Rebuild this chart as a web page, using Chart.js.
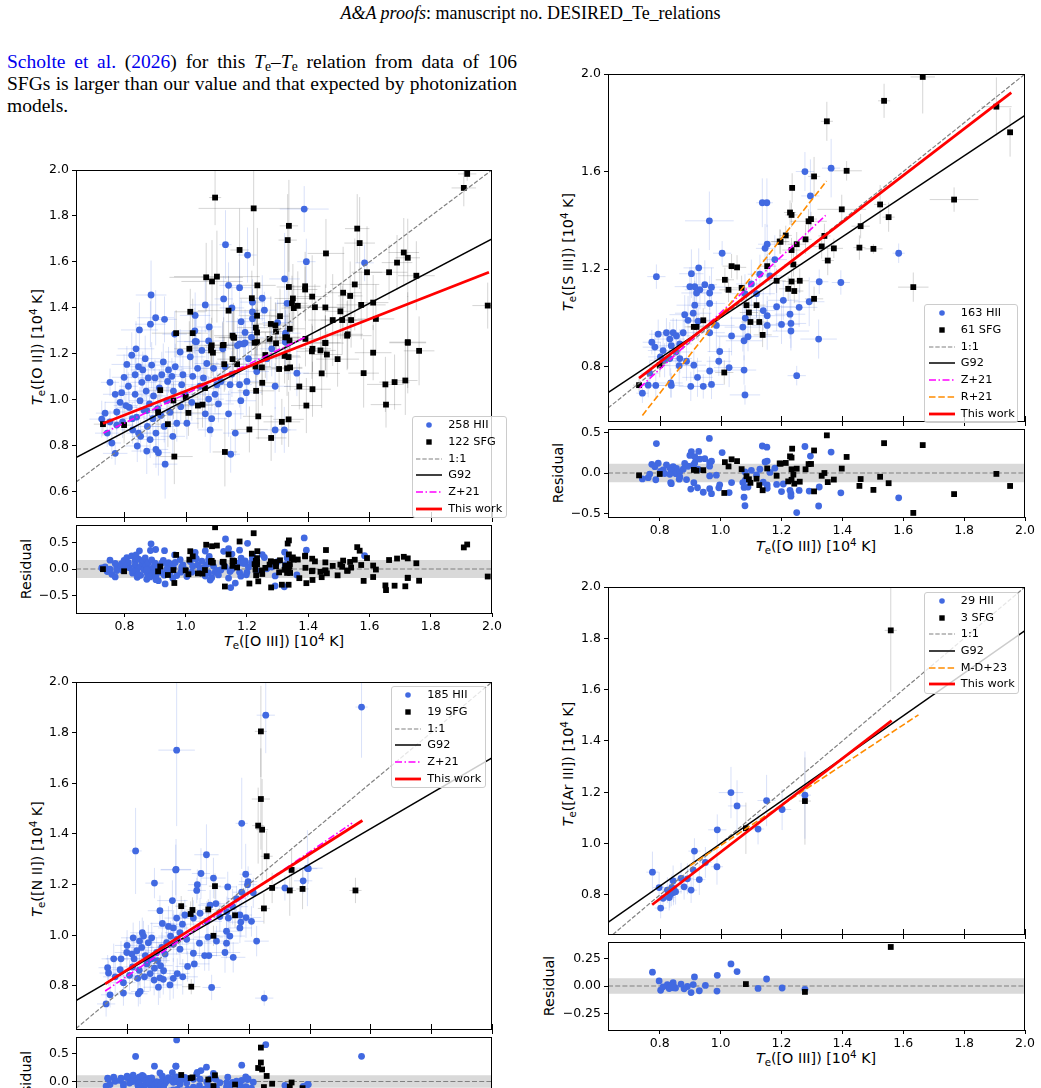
<!DOCTYPE html>
<html lang="en">
<head>
    <meta charset="UTF-8">
    <title>Te - Te relations</title>
    <script src="https://cdn.jsdelivr.net/npm/chart.js@4.4.1/dist/chart.umd.min.js"></script>
    <style>
        * { margin: 0; padding: 0; box-sizing: border-box; }
        body {
            width: 1041px; height: 1088px; overflow: hidden; position: relative;
            background: #fff; color: #000; font-family: 'DejaVu Sans', sans-serif;
        }
        canvas { position: absolute; }
        .hdr {
            position: absolute; left: 20px; width: 1021px; top: 3px; text-align: center;
            font: 18px 'Liberation Serif', serif;
        }
        .para {
            position: absolute; left: 7px; top: 51px; width: 510px;
            font: 19.5px 'Liberation Serif', serif; line-height: 22px;
        }
        .para div { text-align: justify; text-align-last: justify; white-space: nowrap; }
        .para div.last { text-align-last: left; }
        .para .ref { color: #0000ee; }
        .para sub { font-size: 0.7em; vertical-align: -0.2em; line-height: 0; }
        .ttl {
            position: absolute; white-space: nowrap; font-size: 14.3px; line-height: 16px;
            transform: translate(-50%, -50%);
        }
        .ttl.rot { transform: translate(-50%, -50%) rotate(-90deg); }
        .ttl sub { font-size: 0.72em; vertical-align: -0.3em; line-height: 0; }
        .ttl sup { font-size: 0.72em; vertical-align: 0.5em; line-height: 0; }
        .legend {
            position: absolute; z-index: 5; border: 1px solid #cccccc; border-radius: 3px;
            background: rgba(255, 255, 255, 0.8); font-size: 11.3px;
        }
        .legend .row { position: absolute; left: 0; height: 14px; line-height: 14px; width: 100%; }
        .legend svg { position: absolute; left: 2.5px; top: 0; }
        .legend span { position: absolute; left: 35.5px; top: 0; white-space: nowrap; }
    </style>
</head>
<body>
    <div class="hdr"><i>A&amp;A proofs</i>: manuscript no. DESIRED_Te_relations</div>
    <div class="para">
        <div><span class="ref">Scholte et al.</span> (<span class="ref">2026</span>) for this <i>T</i><sub>e</sub>–<i>T</i><sub>e</sub> relation from data of 106</div>
        <div>SFGs is larger than our value and that expected by photonization</div>
        <div class="last">models.</div>
    </div>

    <!-- axis titles -->
    <div class="ttl rot" style="left:37px; top:347px"><i>T</i><sub>e</sub>([O II]) [10<sup>4</sup> K]</div>
    <div class="ttl rot" style="left:26px; top:569px">Residual</div>
    <div class="ttl" style="left:284px; top:641px"><i>T</i><sub>e</sub>([O III]) [10<sup>4</sup> K]</div>

    <div class="ttl rot" style="left:568px; top:252px"><i>T</i><sub>e</sub>([S III]) [10<sup>4</sup> K]</div>
    <div class="ttl rot" style="left:558px; top:473px">Residual</div>
    <div class="ttl" style="left:816px; top:546px"><i>T</i><sub>e</sub>([O III]) [10<sup>4</sup> K]</div>

    <div class="ttl rot" style="left:37px; top:859px"><i>T</i><sub>e</sub>([N II]) [10<sup>4</sup> K]</div>
    <div class="ttl rot" style="left:26px; top:1081px">Residual</div>

    <div class="ttl rot" style="left:568px; top:764px"><i>T</i><sub>e</sub>([Ar III]) [10<sup>4</sup> K]</div>
    <div class="ttl rot" style="left:549px; top:986px">Residual</div>
    <div class="ttl" style="left:816px; top:1058px"><i>T</i><sub>e</sub>([O III]) [10<sup>4</sup> K]</div>

    <script>
        // ---- data: [Te(O III), Te(X), err x, err y], in 1e4 K ----
        const xTicks = [0.8, 1.0, 1.2, 1.4, 1.6, 1.8, 2.0];

        // [O II] panel
        const hiiOII = [
            [1.387,1.83,.08,.1],[1.13,1.675,.02,.15],[1.202,1.63,.03,.12],[1.394,1.601,.03,.1],[1.584,1.596,.03,.08],
            [1.323,1.526,.05,.2],[1.14,1.498,.03,.1],[1.176,1.488,.04,.12],[0.887,1.456,.05,.15],[1.124,1.439,.03,.1],
            [1.25,1.442,.03,.1],[1.218,1.425,.04,.1],[1.064,1.413,.05,.12],[1.151,1.4,.04,.1],[1.331,1.42,.04,.12],
            [1.031,1.367,.05,.1],[1.257,1.39,.04,.08],[0.902,1.357,.06,.12],[0.931,1.35,.04,.1],[0.885,1.329,.05,.1],
            [0.849,1.304,.06,.12],[1.077,1.317,.04,.1],[1.181,1.34,.05,.1],[1.218,1.382,.04,.1],[1.194,1.293,.05,.1],
            [1.218,1.353,.04,.08],[1.3,1.336,.05,.1],[0.964,1.286,.04,.1],[1.03,1.3,.05,.1],[1.035,1.253,.04,.1],
            [1.075,1.256,.05,.08],[1.176,1.243,.04,.08],[1.194,1.248,.05,.1],[1.215,1.272,.04,.08],[1.326,1.29,.05,.1],
            [0.753,1.076,.03,.06],[0.726,0.916,.04,.08],[0.737,0.942,.03,.05],[0.744,0.855,.04,.06],[0.759,0.812,.03,.07],
            [0.77,0.767,.04,.05],[0.775,0.89,.03,.06],[0.775,0.947,.04,.08],[0.786,0.989,.05,.06],[0.791,1.031,.03,.07],
            [0.799,1.098,.04,.1],[0.808,1.154,.05,.08],[0.813,1.059,.03,.06],[0.816,0.967,.04,.07],[0.824,1.194,.05,.1],
            [0.827,0.869,.04,.06],[0.835,1.109,.03,.08],[0.835,1.024,.04,.06],[0.838,1.222,.06,.12],[0.84,0.925,.03,.05],
            [0.842,0.799,.04,.07],[0.846,1.144,.05,.08],[0.851,0.996,.04,.06],[0.853,0.841,.03,.07],[0.857,1.076,.05,.1],
            [0.86,1.13,.04,.08],[0.864,0.953,.03,.06],[0.868,1.179,.05,.1],[0.871,1.038,.04,.07],[0.873,0.777,.05,.1],
            [0.875,0.884,.04,.06],[0.878,1.095,.03,.07],[0.882,0.982,.04,.06],[0.884,0.827,.05,.08],[0.889,1.151,.04,.1],
            [0.893,0.918,.03,.06],[0.895,1.017,.04,.07],[0.9,1.095,.05,.08],[0.903,0.855,.04,.08],[0.908,0.961,.03,.06],
            [0.911,0.77,.04,.1],[0.914,1.052,.05,.08],[0.919,0.932,.04,.06],[0.922,1.109,.05,.1],[0.927,1.165,.04,.08],
            [0.93,0.884,.05,.07],[0.933,0.72,.04,.15],[0.938,0.996,.03,.06],[0.941,1.08,.04,.08],[0.944,1.13,.05,.1],
            [0.949,0.946,.04,.07],[0.955,1.102,.05,.08],[0.958,0.841,.04,.1],[0.96,1.038,.03,.06],[0.966,1.144,.05,.1],
            [0.971,0.898,.04,.08],[0.982,1.208,.05,.1],[0.984,0.97,.04,.07],[0.987,1.066,.05,.08],[0.991,1.109,.04,.1],
            [0.998,1.024,.05,.08],[1.004,0.898,.04,.07],[1.015,1.187,.05,.1],[1.02,0.989,.04,.08],[1.023,1.102,.05,.1],
            [1.031,1.254,.06,.12],[1.039,1.137,.05,.1],[1.047,1.059,.04,.08],[1.053,1.215,.05,.1],[1.058,1.095,.04,.08],
            [1.064,0.939,.05,.1],[1.069,1.158,.04,.08],[1.075,1.003,.05,.1],[1.08,0.869,.04,.1],[1.085,0.918,.05,.08],
            [1.091,1.137,.04,.1],[1.096,1.024,.05,.08],[1.102,1.066,.04,.1],[1.107,0.982,.05,.08],[1.115,1.08,.04,.1],
            [1.121,1.222,.05,.12],[1.129,1.144,.04,.1],[1.14,0.939,.05,.1],[1.145,1.066,.04,.08],[1.151,1.112,.05,.1],
            [1.162,0.855,.04,.1],[1.169,1.236,.05,.12],[1.176,1.066,.04,.1],[1.18,0.996,.05,.08],[1.189,1.243,.04,.1],
            [1.198,1.031,.05,.1],[1.2,1.08,.04,.08],[1.205,1.179,.05,.1],[1.232,1.123,.04,.1],[1.292,0.869,.05,.1],
            [1.322,0.869,.04,.1],[1.265,1.179,.05,.1],[1.281,1.222,.04,.12],[1.325,1.251,.05,.1],[1.363,1.116,.04,.1],
            [1.292,1.059,.05,.1],[1.147,0.763,.03,.08],[0.903,0.784,.04,.08],[0.873,0.953,.03,.06],[0.846,0.855,.04,.06],
            [0.826,0.918,.03,.07],[0.805,0.975,.04,.06],[0.794,0.904,.03,.07],[0.77,1.024,.04,.06],[0.753,0.904,.03,.05]
        ];
        const sfgOII = [
            [1.919,1.983,.03,.03],[1.908,1.922,.04,.08],[1.096,1.88,.02,.12],[1.222,1.833,.18,.25],[1.337,1.757,.03,.2],
            [1.333,1.695,.03,.2],[1.176,1.652,.03,.18],[1.458,1.637,.06,.15],[1.56,1.745,.04,.15],[1.568,1.682,.05,.2],
            [1.712,1.641,.05,.15],[1.725,1.618,.04,.17],[1.69,1.597,.05,.12],[1.664,1.555,.06,.12],[1.592,1.555,.05,.2],
            [1.753,1.54,.06,.15],[1.552,1.502,.08,.2],[1.612,1.423,.05,.12],[1.621,1.352,.06,.15],[1.986,1.41,.05,.1],
            [1.067,1.533,.12,.15],[1.102,1.536,.14,.2],[1.086,1.515,.1,.18],[1.234,1.498,.06,.25],[1.337,1.491,.04,.2],
            [1.39,1.494,.05,.15],[1.39,1.48,.04,.1],[1.413,1.449,.05,.18],[1.422,1.403,.1,.1],[1.456,1.402,.06,.1],
            [1.514,1.466,.06,.2],[1.537,1.452,.04,.15],[1.505,1.385,.05,.12],[1.573,1.413,.08,.15],[1.48,1.347,.08,.2],
            [1.511,1.347,.07,.15],[1.54,1.347,.05,.12],[1.529,1.285,.05,.15],[1.725,1.248,.06,.22],[1.015,1.383,.05,.1],
            [0.969,1.29,.08,.1],[1.023,1.29,.05,.15],[1.14,1.388,.1,.15],[1.216,1.442,.04,.12],[1.233,1.366,.06,.15],
            [1.229,1.314,.06,.12],[1.233,1.293,.05,.1],[1.278,1.33,.05,.12],[1.293,1.324,.04,.1],[1.308,1.364,.03,.12],
            [1.34,1.309,.05,.1],[1.35,1.441,.06,.15],[1.347,1.42,.05,.12],[1.353,1.399,.04,.1],[1.366,1.409,.05,.15],
            [1.295,1.297,.05,.12],[1.153,1.279,.06,.1],[1.158,1.27,.05,.12],[1.331,1.272,.04,.1],[1.274,1.265,.05,.12],
            [1.085,1.237,.07,.12],[1.121,1.237,.06,.1],[1.456,1.248,.05,.12],[1.225,1.248,.06,.1],[1.012,1.222,.05,.12],
            [1.083,1.229,.06,.1],[1.083,1.215,.05,.12],[1.089,1.205,.04,.1],[1.124,1.239,.05,.12],[1.156,1.272,.06,.15],
            [1.153,1.177,.05,.1],[1.126,1.155,.06,.12],[1.168,1.155,.05,.1],[1.233,1.251,.05,.15],[1.228,1.145,.05,.1],
            [1.249,1.141,.06,.12],[1.26,1.195,.05,.1],[1.295,1.246,.06,.12],[1.305,1.134,.05,.1],[1.323,1.191,.05,.12],
            [1.336,1.186,.04,.1],[1.331,1.137,.05,.12],[1.341,1.141,.04,.1],[1.325,1.272,.05,.15],[1.339,1.258,.04,.12],
            [1.391,1.265,.05,.12],[1.414,1.222,.06,.1],[1.412,1.211,.05,.12],[1.44,1.215,.05,.1],[1.456,1.247,.06,.12],
            [1.461,1.197,.05,.1],[1.444,1.115,.06,.15],[1.496,1.177,.07,.12],[1.527,1.279,.08,.15],[1.581,1.116,.05,.15],
            [1.612,1.205,.06,.12],[1.725,1.251,.06,.2],[1.762,1.213,.05,.15],[1.652,1.067,.06,.12],[1.682,1.077,.05,.12],
            [1.717,1.084,.04,.15],[1.654,0.979,.05,.1],[1.371,1.058,.05,.1],[1.414,1.046,.06,.12],[1.394,0.975,.05,.12],
            [1.23,1.039,.06,.1],[1.25,1.074,.05,.1],[1.237,0.928,.05,.1],[1.208,0.871,.06,.1],[1.279,0.834,.05,.1],
            [1.314,0.904,.06,.1],[1.336,0.915,.05,.12],[1.128,0.773,.04,.15],[0.963,0.753,.06,.12],[1.04,0.975,.05,.1],
            [1.055,0.979,.06,.1],[1.063,1.051,.05,.1],[1.0,1.012,.04,.1],[0.96,0.997,.05,.08],[0.917,1.042,.04,.08],
            [0.91,0.946,.05,.08],[0.942,0.894,.04,.1],[0.799,0.89,.03,.08],[1.009,0.943,.05,.1],[0.73,0.894,.03,.05]
        ];
        const oneOII = [[0.642, 0.642], [2.0, 2.0]];
        const g92OII = [[0.642, 0.749], [2.0, 1.70]];
        const z21OII = [[0.731, 0.855], [1.39, 1.272]];
        const fitOII = [[0.73, 0.897], [1.99, 1.555]];
        const sigOII = 0.17;
        const legOII = ['258 HII', '122 SFG', '1:1', 'G92', 'Z+21', 'This work'];

        // [S III] panel
        const hiiSIII = [
            [1.277,1.6,.03,.08],[1.363,1.614,.03,.12],[1.295,1.5,.03,.15],[1.137,1.472,.02,.1],[1.152,1.472,.02,.1],
            [0.963,1.398,.08,.12],[1.153,1.302,.03,.08],[1.005,1.265,.03,.05],[1.585,1.265,.02,.04],[1.146,1.285,.03,.1],
            [0.928,1.205,.05,.08],[0.904,1.181,.04,.1],[0.789,1.169,.03,.05],[0.899,1.128,.05,.08],[0.915,1.128,.04,.07],
            [0.932,1.115,.05,.08],[0.948,1.136,.04,.1],[0.97,1.126,.05,.08],[0.964,1.102,.04,.07],[0.921,1.102,.05,.08],
            [1.324,1.148,.03,.05],[1.395,1.145,.03,.05],[1.162,1.172,.04,.08],[1.178,1.239,.04,.1],[1.129,1.179,.04,.08],
            [1.101,1.139,.05,.1],[0.964,1.059,.05,.08],[0.915,1.052,.06,.1],[0.882,1.013,.05,.08],[0.893,0.99,.06,.1],
            [0.926,0.986,.05,.08],[0.91,1.019,.06,.1],[1.081,0.999,.05,.08],[1.073,0.962,.06,.1],[1.036,0.926,.05,.08],
            [1.09,0.923,.1,.06],[1.077,0.906,.06,.08],[0.964,0.939,.05,.08],[0.986,0.969,.06,.1],[0.997,0.862,.04,.06],
            [0.994,0.822,.04,.06],[1.028,0.796,.05,.08],[1.077,0.786,.04,.06],[1.08,0.684,.05,.04],[0.97,0.727,.04,.06],
            [0.943,0.719,.03,.05],[0.902,0.719,.04,.06],[0.924,0.756,.05,.08],[0.964,0.782,.04,.06],[0.888,0.822,.05,.08],
            [0.912,0.806,.04,.06],[0.864,0.804,.05,.08],[0.836,0.733,.04,.06],[0.838,0.723,.04,.05],[0.787,0.723,.03,.05],
            [0.762,0.724,.03,.05],[0.743,0.691,.02,.04],[0.767,0.773,.03,.05],[0.795,0.933,.03,.06],[0.774,0.9,.03,.05],
            [0.784,0.88,.04,.06],[0.811,0.866,.05,.07],[0.822,0.939,.04,.06],[0.833,0.913,.05,.07],[0.844,0.939,.04,.06],
            [0.855,0.926,.05,.07],[0.838,0.886,.04,.06],[0.853,0.86,.05,.07],[0.866,0.893,.04,.06],[0.877,0.939,.05,.07],
            [0.802,0.84,.04,.06],[0.816,0.826,.05,.07],[0.866,0.833,.04,.06],[0.833,0.833,.05,.07],[1.153,1.009,.06,.08],
            [1.153,0.969,.05,.1],[1.2,0.973,.06,.08],[1.231,0.977,.05,.1],[1.231,0.946,.06,.08],[1.228,1.015,.05,.1],
            [1.258,1.043,.06,.08],[1.291,1.066,.05,.1],[1.322,0.913,.06,.08],[1.25,0.763,.03,.04],[1.14,1.03,.05,.08],
            [1.184,1.046,.06,.1],[1.206,1.072,.05,.08],[1.08,1.099,.05,.08],[1.118,1.099,.06,.1]
        ];
        const sfgSIII = [
            [1.664,1.988,.04,.15],[1.537,1.89,.02,.07],[1.349,1.806,.02,.08],[1.906,1.866,.05,.12],[1.951,1.761,.01,.1],
            [1.307,1.58,.02,.08],[1.414,1.603,.05,.04],[1.235,1.533,.01,.06],[1.228,1.432,.02,.05],[1.233,1.422,.02,.05],
            [1.297,1.405,.02,.03],[1.289,1.396,.06,.05],[1.398,1.445,.08,.06],[1.524,1.465,.02,.08],[1.552,1.413,.02,.06],
            [1.46,1.376,.03,.05],[1.767,1.485,.08,.05],[1.214,1.338,.02,.04],[1.279,1.322,.02,.06],[1.341,1.336,.02,.05],
            [1.194,1.313,.03,.05],[1.332,1.293,.03,.05],[1.25,1.302,.03,.05],[1.456,1.288,.02,.05],[1.502,1.283,.03,.02],
            [1.633,1.126,.05,.06],[1.372,1.285,.03,.04],[1.352,1.235,.02,.06],[1.233,1.278,.03,.05],[1.197,1.312,.03,.05],
            [1.239,1.219,.03,.05],[1.153,1.212,.03,.05],[1.184,1.152,.03,.05],[1.233,1.149,.03,.05],[1.26,1.152,.03,.05],
            [1.222,1.119,.03,.05],[1.242,1.11,.03,.05],[1.307,1.078,.03,.05],[1.036,1.212,.03,.05],[1.054,1.207,.03,.05],
            [1.014,1.156,.03,.05],[1.026,1.115,.03,.05],[1.069,1.123,.03,.05],[1.085,1.052,.03,.05],[1.118,1.052,.03,.05],
            [1.093,1.022,.03,.05],[1.098,0.983,.03,.05],[1.127,0.983,.03,.05],[1.138,0.93,.03,.05],[0.943,0.99,.03,.05],
            [0.912,0.963,.03,.05],[0.921,0.963,.03,.05],[1.012,0.776,.03,.05],[0.8,0.806,.03,.05],[0.732,0.724,.02,.03]
        ];
        const oneSIII = [[0.63, 0.63], [2.0, 2.0]];
        const g92SIII = [[0.63, 0.693], [2.0, 1.83]];
        const z21SIII = [[0.734, 0.713], [1.345, 1.42]];
        const r21SIII = [[0.743, 0.6], [1.348, 1.561]];
        const fitSIII = [[0.732, 0.753], [1.955, 1.924]];
        const sigSIII = 0.113;
        const legSIII = ['163 HII', '61 SFG', '1:1', 'G92', 'Z+21', 'R+21', 'This work'];

        // [N II] panel
        const hiiNII = [
            [1.571,1.901,.02,.2],[1.256,1.869,.03,.15],[0.963,1.731,.06,.3],[0.828,1.333,.02,.17],[1.061,1.318,.04,.12],
            [1.177,1.442,.02,.18],[0.961,1.26,.05,.12],[1.043,1.244,.03,.1],[1.19,1.241,.02,.12],[1.393,1.265,.05,.15],
            [0.89,1.206,.03,.06],[0.96,1.258,.05,.1],[1.031,1.2,.03,.06],[1.029,1.177,.03,.05],[1.084,1.226,.04,.08],
            [1.131,1.191,.03,.06],[1.198,1.212,.03,.06],[1.196,1.2,.03,.05],[1.177,1.17,.03,.06],[1.16,1.145,.03,.05],
            [1.215,1.168,.03,.06],[1.319,1.187,.03,.05],[1.379,1.215,.03,.05],[1.396,1.263,.03,.06],[0.949,1.137,.05,.08],
            [0.908,1.097,.04,.06],[0.936,1.035,.05,.08],[0.916,1.047,.04,.06],[0.952,1.029,.05,.07],[0.963,1.068,.04,.06],
            [0.982,1.044,.05,.08],[0.99,1.08,.04,.06],[1.018,1.068,.05,.07],[1.04,1.087,.04,.06],[1.062,1.055,.05,.08],
            [1.073,1.119,.04,.06],[1.092,1.125,.05,.07],[1.105,1.074,.04,.06],[1.133,1.068,.05,.08],[1.128,1.093,.04,.06],
            [1.147,1.113,.05,.07],[1.171,1.08,.04,.06],[1.191,1.07,.05,.08],[1.174,1.052,.04,.06],[1.138,0.997,.05,.07],
            [1.127,1.016,.04,.06],[1.122,0.932,.05,.08],[1.069,0.92,.04,.06],[1.066,0.993,.05,.07],[1.018,0.929,.04,.06],
            [1.021,0.887,.05,.08],[0.999,0.877,.04,.06],[0.983,0.836,.05,.07],[0.965,0.849,.04,.06],[0.952,0.83,.05,.08],
            [0.941,0.804,.04,.06],[0.903,0.795,.05,.07],[0.919,0.826,.04,.06],[0.908,0.832,.05,.08],[0.889,0.823,.04,.06],
            [0.876,0.849,.05,.07],[0.865,0.887,.04,.06],[0.881,0.907,.05,.08],[0.897,0.932,.04,.06],[0.925,0.926,.05,.07],
            [0.914,0.952,.04,.06],[0.93,0.971,.05,.08],[0.943,0.997,.04,.06],[0.952,0.965,.05,.07],[0.963,0.984,.04,.06],
            [0.974,1.01,.05,.08],[0.881,0.99,.04,.06],[0.87,0.971,.05,.07],[0.854,0.997,.04,.06],[0.841,0.977,.05,.08],
            [0.848,0.952,.04,.06],[0.832,0.939,.05,.07],[0.816,0.926,.04,.06],[0.823,0.907,.05,.08],[0.799,0.932,.04,.06],
            [0.78,0.907,.05,.07],[0.756,0.907,.04,.06],[0.736,0.872,.03,.05],[0.739,0.851,.03,.05],[0.761,0.836,.04,.06],
            [0.777,0.864,.04,.06],[0.788,0.813,.04,.06],[0.808,0.842,.04,.06],[0.835,0.83,.04,.06],[0.84,0.862,.04,.06],
            [0.818,0.875,.04,.06],[0.857,0.836,.04,.06],[0.843,0.778,.03,.05],[0.788,0.772,.03,.05],[0.744,0.765,.03,.05],
            [0.731,0.729,.03,.05],[0.837,0.769,.03,.05],[1.078,0.794,.03,.05],[1.251,0.752,.03,.03],[0.974,0.945,.04,.06],
            [0.996,0.984,.04,.06],[1.038,0.969,.04,.06],[1.055,0.92,.04,.06],[1.094,0.977,.04,.06],[1.149,0.913,.04,.06],
            [1.171,1.029,.04,.06],[1.209,1.055,.04,.06],[1.226,0.977,.04,.06],[1.127,0.969,.04,.06],[0.8,0.96,.04,.06],
            [0.82,0.99,.04,.06],[0.85,1.01,.04,.06],[0.86,0.92,.04,.06],[0.87,0.9,.04,.06],[0.89,0.87,.04,.06],
            [0.9,0.9,.04,.06],[0.91,0.88,.04,.06],[0.92,0.86,.04,.06]
        ];
        const sfgNII = [
            [1.24,1.805,.02,.18],[1.24,1.538,.03,.2],[1.231,1.433,.02,.15],[1.244,1.417,.02,.2],[1.259,1.312,.02,.1],
            [1.341,1.258,.02,.08],[1.277,1.187,.02,.06],[1.335,1.177,.02,.1],[1.377,1.183,.02,.08],[1.551,1.177,.02,.05],
            [1.25,1.106,.02,.06],[1.089,1.194,.02,.05],[0.978,1.115,.02,.04],[1.015,1.1,.02,.05],[1.009,1.084,.02,.05],
            [1.067,1.102,.02,.04],[1.155,1.079,.02,.05],[1.084,0.998,.02,.04],[1.011,0.797,.03,.03]
        ];
        const oneNII = [[0.632, 0.632], [2.0, 2.0]];
        const g92NII = [[0.632, 0.742], [2.0, 1.70]];
        const z21NII = [[0.728, 0.78], [1.54, 1.443]];
        const fitNII = [[0.728, 0.808], [1.574, 1.453]];
        const sigNII = 0.11;
        const legNII = ['185 HII', '19 SFG', '1:1', 'G92', 'Z+21', 'This work'];

        // [Ar III] panel
        const hiiArIII = [
            [1.034,1.199,.04,.1],[1.277,1.189,.02,.17],[1.054,1.147,.03,.1],[1.151,1.168,.03,.1],[1.202,1.133,.03,.08],
            [1.123,1.057,.02,.06],[0.989,1.054,.03,.06],[0.914,0.971,.02,.05],[0.988,0.91,.02,.07],[0.95,0.927,.02,.06],
            [0.91,0.898,.02,.07],[0.93,0.86,.02,.06],[0.776,0.889,.02,.08],[0.798,0.829,.02,.06],[0.803,0.749,.02,.04],
            [0.811,0.787,.02,.05],[0.831,0.79,.02,.05],[0.838,0.806,.02,.05],[0.844,0.855,.02,.06],[0.846,0.822,.02,.05],
            [0.852,0.813,.02,.05],[0.825,0.819,.02,.05],[0.833,0.8,.02,.05],[0.891,0.863,.02,.06],[0.88,0.832,.02,.05],
            [0.903,0.819,.02,.05],[0.84,0.83,.02,.05],[0.845,0.81,.02,.05],[0.87,0.865,.02,.06]
        ];
        const sfgArIII = [[1.083,1.06,.02,.1],[1.277,1.166,.02,.17],[1.559,1.831,.02,.24]];
        const oneArIII = [[0.63, 0.63], [2.0, 2.0]];
        const g92ArIII = [[0.63, 0.693], [2.0, 1.83]];
        const md23ArIII = [[0.899, 0.914], [1.65, 1.502]];
        const fitArIII = [[0.775, 0.762], [1.562, 1.479]];
        const sigArIII = 0.07;
        const legArIII = ['29 HII', '3 SFG', '1:1', 'G92', 'M-D+23', 'This work'];

        // ---- styles ----
        const BLUE = '#4169e1';
        const styles = {
            one:  { color: '#808080', width: 1.2, dash: [4.4, 1.9] },
            g92:  { color: '#000000', width: 1.5, dash: [] },
            z21:  { color: '#ff00ff', width: 1.6, dash: [7, 2.5, 1.5, 2.5] },
            r21:  { color: '#ff8c00', width: 1.6, dash: [6.5, 2.8] },
            fit:  { color: '#ff0000', width: 2.8, dash: [] }
        };

        Chart.defaults.font.family = "'DejaVu Sans', sans-serif";
        Chart.defaults.font.size = 12.5;
        Chart.defaults.color = '#000';

        // box around the axes, plus ticks crossing the bottom spine of the upper panels
        const frame = {
            id: 'frame',
            afterDatasetsDraw(chart, args, opts) {
                const { ctx, chartArea: a, scales } = chart;
                ctx.save();
                ctx.strokeStyle = '#000';
                ctx.lineWidth = 1;
                ctx.strokeRect(a.left + 0.5, a.top + 0.5, a.right - a.left - 1, a.bottom - a.top);
                if (opts.cross) {
                    ctx.beginPath();
                    xTicks.forEach(v => {
                        const px = Math.round(scales.x.getPixelForValue(v)) + 0.5;
                        ctx.moveTo(px, a.bottom - 5);
                        ctx.lineTo(px, a.bottom + 5);
                    });
                    ctx.stroke();
                }
                ctx.restore();
            }
        };

        // error bars under the markers
        const errorBars = {
            id: 'errorBars',
            beforeDatasetsDraw(chart) {
                const { ctx, chartArea: a, scales: { x, y } } = chart;
                ctx.save();
                ctx.beginPath();
                ctx.rect(a.left, a.top, a.right - a.left, a.bottom - a.top);
                ctx.clip();
                ctx.lineWidth = 1;
                chart.data.datasets.forEach(ds => {
                    if (!ds.errors) return;
                    ctx.strokeStyle = ds.errorColor;
                    ds.errors.forEach((e, i) => {
                        const p = ds.data[i];
                        const px = x.getPixelForValue(p.x), py = y.getPixelForValue(p.y);
                        ctx.beginPath();
                        ctx.moveTo(x.getPixelForValue(p.x - e[0]), py);
                        ctx.lineTo(x.getPixelForValue(p.x + e[0]), py);
                        ctx.moveTo(px, y.getPixelForValue(p.y - e[1]));
                        ctx.lineTo(px, y.getPixelForValue(p.y + e[1]));
                        ctx.stroke();
                    });
                });
                ctx.restore();
            }
        };

        function pointSet(rows, sfg, withErr, yOf) {
            return {
                type: 'scatter',
                data: rows.map((r, i) => ({ x: r[0], y: yOf ? yOf[i] : r[1] })),
                errors: withErr ? rows.map(r => [r[2], r[3]]) : null,
                errorColor: sfg ? 'rgba(0,0,0,0.17)' : 'rgba(65,105,225,0.2)',
                pointStyle: sfg ? 'rect' : 'circle',
                pointRadius: sfg ? 4.1 : 3.4,
                backgroundColor: sfg ? '#000' : BLUE,
                borderWidth: 0,
                clip: 0,
                order: sfg ? 10 : 11
            };
        }

        function lineSet(pts, kind, order) {
            const s = styles[kind];
            return {
                type: 'line',
                data: pts.map(p => ({ x: p[0], y: p[1] })),
                borderColor: s.color, borderWidth: s.width, borderDash: s.dash,
                pointRadius: 0, fill: false, clip: 0, order
            };
        }

        // residual = Te(X) - fit(Te(O III)), fit taken from the "This work" line
        function residuals(rows, fit) {
            const [[x0, y0], [x1, y1]] = fit;
            const b = (y1 - y0) / (x1 - x0);
            return rows.map(r => r[1] - (y0 + b * (r[0] - x0)));
        }

        function fmt(v, d) {
            const s = Math.abs(v) < 1e-9 ? (0).toFixed(d) : v.toFixed(d);
            return s.replace('-', '\u2212');
        }

        // one axes = one chart; box = chart area in page pixels [L, T, R, B]
        function axes(box, xr, yr, yTicks, digits, showX, datasets, cross) {
            const [L, T, R, B] = box;
            const padL = 70, padT = 12, padR = 30, padB = showX ? 32 : 8;
            const c = document.createElement('canvas');
            c.width = R - L + padL + padR;
            c.height = B - T + padT + padB;
            c.style.left = (L - padL) + 'px';
            c.style.top = (T - padT) + 'px';
            c.style.width = c.width + 'px';
            c.style.height = c.height + 'px';
            document.body.appendChild(c);
            return new Chart(c, {
                type: 'scatter',
                data: { datasets },
                options: {
                    responsive: false, animation: false, devicePixelRatio: 1, events: [],
                    layout: { padding: { top: padT, right: padR, bottom: showX ? 0 : padB, left: 0 } },
                    plugins: { legend: { display: false }, tooltip: { enabled: false }, frame: { cross } },
                    scales: {
                        x: {
                            type: 'linear', min: xr[0], max: xr[1], display: showX,
                            afterBuildTicks: s => { s.ticks = xTicks.map(v => ({ value: v })); },
                            afterFit: s => { s.height = padB; },
                            grid: { drawOnChartArea: false, tickLength: 4, color: '#000' },
                            border: { display: false },
                            ticks: { callback: v => fmt(v, 1), padding: 2, maxRotation: 0, autoSkip: false }
                        },
                        y: {
                            type: 'linear', min: yr[0], max: yr[1],
                            afterBuildTicks: s => { s.ticks = yTicks.map(v => ({ value: v })); },
                            afterFit: s => { s.width = padL; },
                            grid: { drawOnChartArea: false, tickLength: 4, color: '#000' },
                            border: { display: false },
                            ticks: { callback: v => fmt(v, digits), padding: 3, autoSkip: false }
                        }
                    }
                },
                plugins: [frame, errorBars]
            });
        }

        function mainPanel(box, xr, yr, yTicks, hii, sfg, lines) {
            const sets = lines.map((ln, i) => lineSet(ln[0], ln[1], lines.length - 1 - i));
            sets.push(pointSet(sfg, true, true), pointSet(hii, false, true));
            axes(box, xr, yr, yTicks, 1, false, sets, true);
        }

        function residPanel(box, xr, lim, yTicks, digits, hii, sfg, fit, sig) {
            const sets = [
                { type: 'line', data: [{ x: xr[0], y: sig }, { x: xr[1], y: sig }], fill: { value: -sig },
                  backgroundColor: '#d9d9d9', borderWidth: 0, pointRadius: 0, clip: 0, order: 21 },
                { type: 'line', data: [{ x: xr[0], y: 0 }, { x: xr[1], y: 0 }], borderColor: '#808080',
                  borderWidth: 1.2, borderDash: [5, 2.2], pointRadius: 0, fill: false, clip: 0, order: 20 },
                pointSet(sfg, true, false, residuals(sfg, fit)),
                pointSet(hii, false, false, residuals(hii, fit))
            ];
            axes(box, xr, [-lim, lim], yTicks, digits, true, sets, false);
        }

        function swatch(kind) {
            const open = '<svg width="28" height="14" viewBox="0 0 28 14">';
            if (kind === 'hii') return open + '<circle cx="14" cy="7" r="2.8" fill="' + BLUE + '"/></svg>';
            if (kind === 'sfg') return open + '<rect x="11.3" y="4.3" width="5.4" height="5.4" fill="#000"/></svg>';
            const s = styles[kind];
            return open + '<line x1="1" y1="7" x2="27" y2="7" stroke="' + s.color + '" stroke-width="' + s.width +
                '" stroke-dasharray="' + (s.dash.length ? s.dash.join(',') : 'none') + '"/></svg>';
        }

        function legend(left, top, width, labels, kinds) {
            const div = document.createElement('div');
            div.className = 'legend';
            div.style.left = left + 'px';
            div.style.top = top + 'px';
            div.style.width = width + 'px';
            div.style.height = (18.6 + (labels.length - 1) * 16.7) + 'px';
            labels.forEach((lab, i) => {
                const row = document.createElement('div');
                row.className = 'row';
                row.style.top = (9.3 + i * 16.7 - 8) + 'px';
                row.innerHTML = swatch(kinds[i]) + '<span>' + lab + '</span>';
                div.appendChild(row);
            });
            document.body.appendChild(div);
        }

        // ---- [O II] vs [O III] ----
        mainPanel([76, 170, 492, 525], [0.642, 2.0], [0.49, 2.0], [0.6, 0.8, 1.0, 1.2, 1.4, 1.6, 1.8, 2.0],
            hiiOII, sfgOII, [[oneOII, 'one'], [g92OII, 'g92'], [z21OII, 'z21'], [fitOII, 'fit']]);
        residPanel([76, 525, 492, 613], [0.642, 2.0], 0.835, [-0.5, 0, 0.5], 1, hiiOII, sfgOII, fitOII, sigOII);
        legend(411.7, 416, 95, legOII, ['hii', 'sfg', 'one', 'g92', 'z21', 'fit']);

        // ---- [S III] vs [O III] ----
        mainPanel([608, 74, 1025, 429], [0.63, 2.0], [0.577, 2.0], [0.8, 1.2, 1.6, 2.0],
            hiiSIII, sfgSIII, [[oneSIII, 'one'], [g92SIII, 'g92'], [z21SIII, 'z21'], [r21SIII, 'r21'], [fitSIII, 'fit']]);
        residPanel([608, 429, 1025, 517], [0.63, 2.0], 0.54, [-0.5, 0, 0.5], 1, hiiSIII, sfgSIII, fitSIII, sigSIII);
        legend(924.3, 304, 94, legSIII, ['hii', 'sfg', 'one', 'g92', 'z21', 'r21', 'fit']);

        // ---- [N II] vs [O III] ----
        mainPanel([76, 682, 492, 1037], [0.632, 2.0], [0.63, 2.0], [0.8, 1.0, 1.2, 1.4, 1.6, 1.8, 2.0],
            hiiNII, sfgNII, [[oneNII, 'one'], [g92NII, 'g92'], [z21NII, 'z21'], [fitNII, 'fit']]);
        residPanel([76, 1037, 492, 1126], [0.632, 2.0], 0.796, [-0.5, 0, 0.5], 1, hiiNII, sfgNII, fitNII, sigNII);
        legend(390.7, 686, 95, legNII, ['hii', 'sfg', 'one', 'g92', 'z21', 'fit']);

        // ---- [Ar III] vs [O III] ----
        mainPanel([608, 587, 1025, 942], [0.63, 2.0], [0.648, 2.0], [0.8, 1.0, 1.2, 1.4, 1.6, 1.8, 2.0],
            hiiArIII, sfgArIII, [[oneArIII, 'one'], [g92ArIII, 'g92'], [md23ArIII, 'r21'], [fitArIII, 'fit']]);
        residPanel([608, 942, 1025, 1030], [0.63, 2.0], 0.40, [-0.25, 0, 0.25], 2, hiiArIII, sfgArIII, fitArIII, sigArIII);
        legend(924.3, 591.7, 94.7, legArIII, ['hii', 'sfg', 'one', 'g92', 'r21', 'fit']);
    </script>
</body>
</html>
